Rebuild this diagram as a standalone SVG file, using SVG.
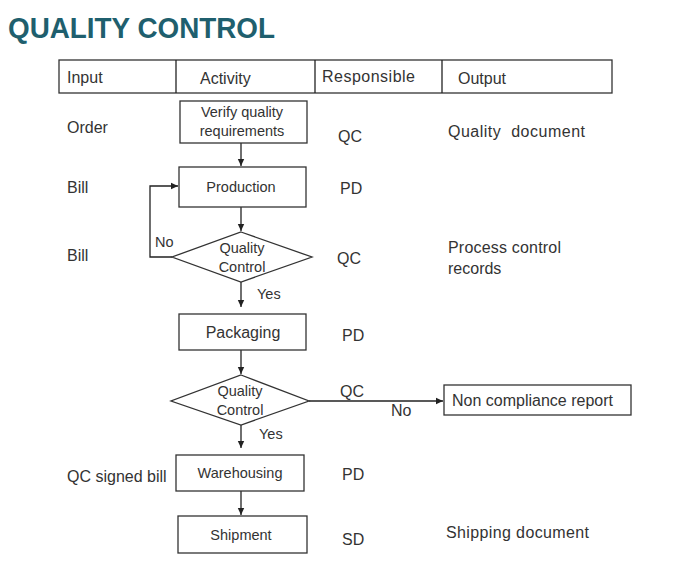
<svg xmlns="http://www.w3.org/2000/svg" width="700" height="569" viewBox="0 0 700 569">
<defs>
<marker id="arr" markerWidth="8" markerHeight="8" refX="7" refY="4" orient="auto" markerUnits="userSpaceOnUse">
<path d="M0,0.8 L7,4 L0,7.2 z" fill="#222"/>
</marker>
<style>
.t{font-family:"Liberation Sans",Arial,sans-serif;fill:#333;font-size:16px}
.s{font-size:14.5px}
.c{text-anchor:middle}
.box{fill:#fff;stroke:#333;stroke-width:1.3}
.ln{fill:none;stroke:#222;stroke-width:1.3}
.ttl{font-family:"Liberation Sans",Arial,sans-serif;font-weight:bold;fill:#1F5F6E;font-size:29px}
</style>
</defs>
<rect width="700" height="569" fill="#fff"/>
<text class="ttl" x="8" y="38" textLength="267" lengthAdjust="spacingAndGlyphs">QUALITY CONTROL</text>

<g id="header">
<rect class="box" x="59" y="60" width="553" height="33"/>
<line class="ln" x1="176" y1="60" x2="176" y2="93"/>
<line class="ln" x1="315" y1="60" x2="315" y2="93"/>
<line class="ln" x1="442" y1="60" x2="442" y2="93"/>
<text class="t" x="67" y="83">Input</text>
<text class="t" x="200" y="84">Activity</text>
<text class="t" x="322" y="82" textLength="93">Responsible</text>
<text class="t" x="458" y="84">Output</text>
</g>

<g id="labels">
<text class="t" x="67" y="133">Order</text>
<text class="t" x="67" y="193">Bill</text>
<text class="t" x="67" y="261">Bill</text>
<text class="t" x="67" y="482">QC signed bill</text>
<text class="t" x="338" y="142">QC</text>
<text class="t" x="340" y="194">PD</text>
<text class="t" x="337" y="264">QC</text>
<text class="t" x="342" y="341">PD</text>
<text class="t" x="342" y="480">PD</text>
<text class="t" x="342" y="545">SD</text>
<text class="t" x="448" y="137" xml:space="preserve" style="white-space:pre" textLength="137">Quality  document</text>
<text class="t" x="448" y="253" textLength="113">Process control</text>
<text class="t" x="448" y="274">records</text>
<text class="t" x="446" y="538" textLength="143">Shipping document</text>
</g>

<g id="connectors">
<line class="ln" x1="241" y1="143" x2="241" y2="166" marker-end="url(#arr)"/>
<line class="ln" x1="241" y1="207" x2="241" y2="231" marker-end="url(#arr)"/>
<polyline class="ln" points="172,257 150,257 150,186 178,186" marker-end="url(#arr)"/>
<line class="ln" x1="241" y1="282" x2="241" y2="307" marker-end="url(#arr)"/>
<line class="ln" x1="241" y1="350" x2="241" y2="374" marker-end="url(#arr)"/>
<line class="ln" x1="309" y1="401" x2="443" y2="401" marker-end="url(#arr)"/>
<line class="ln" x1="241" y1="425" x2="241" y2="448" marker-end="url(#arr)"/>
<line class="ln" x1="241" y1="491" x2="241" y2="515" marker-end="url(#arr)"/>
<text class="t s" x="155" y="247">No</text>
<text class="t s" x="257" y="299">Yes</text>
<text class="t" x="340" y="397">QC</text>
<text class="t" x="391" y="416">No</text>
<text class="t s" x="259" y="439">Yes</text>
</g>

<g id="verify">
<rect class="box" x="180" y="101" width="127" height="42"/>
<text class="t s c" x="242" y="117">Verify quality</text>
<text class="t s c" x="242" y="136">requirements</text>
</g>
<g id="production">
<rect class="box" x="179" y="167" width="127" height="40"/>
<text class="t s c" x="241" y="192">Production</text>
</g>
<g id="qc1">
<polygon class="box" points="241,232 312,257 241,282 172,257"/>
<text class="t s c" x="242" y="253">Quality</text>
<text class="t s c" x="242" y="272">Control</text>
</g>
<g id="packaging">
<rect class="box" x="179" y="314" width="127" height="36"/>
<text class="t c" x="243" y="338">Packaging</text>
</g>
<g id="qc2">
<polygon class="box" points="241,375 309,401 241,425 171,401"/>
<text class="t s c" x="240" y="396">Quality</text>
<text class="t s c" x="240" y="415">Control</text>
</g>
<g id="noncompliance">
<rect class="box" x="444" y="385" width="187" height="30"/>
<text class="t" x="452" y="406">Non compliance report</text>
</g>
<g id="warehousing">
<rect class="box" x="176" y="455" width="128" height="36"/>
<text class="t s c" x="240" y="478">Warehousing</text>
</g>
<g id="shipment">
<rect class="box" x="178" y="516" width="129" height="37"/>
<text class="t s c" x="241" y="540">Shipment</text>
</g>
</svg>
